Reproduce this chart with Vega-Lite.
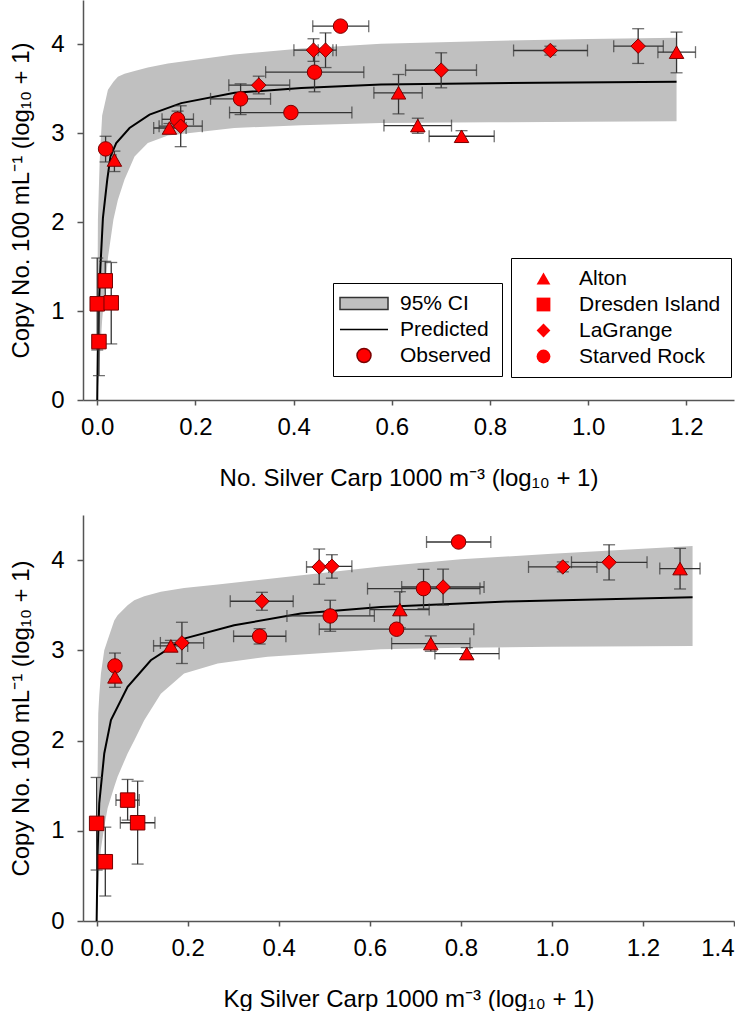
{
  "$schema": "https://vega.github.io/schema/vega-lite/v6.json",
  "padding": {"left": 9, "top": 0, "right": 0, "bottom": 0},
  "spacing": 115,
  "bounds": "flush",
  "config": {
    "font": "Liberation Sans",
    "view": {"stroke": null},
    "axis": {
      "grid": false,
      "labelFont": "Liberation Sans",
      "titleFont": "Liberation Sans",
      "labelFontSize": 24,
      "titleFontSize": 24,
      "titleFontWeight": "normal",
      "labelColor": "#000000",
      "titleColor": "#000000",
      "domainColor": "#555555",
      "domainWidth": 1.5,
      "tickColor": "#555555",
      "tickWidth": 1.5
    },
    "axisX": {"tickSize": 5, "labelPadding": 10, "titlePadding": 27},
    "axisY": {"tickSize": 6, "labelPadding": 13, "titlePadding": 17},
    "legend": {"labelFont": "Liberation Sans", "labelFontSize": 21, "labelColor": "#000000"}
  },
  "datasets": {
    "top_pts": [
      {"site": "Starved Rock", "x": 0.4955, "y": 4.206, "xlo": 0.439, "xhi": 0.553, "ylo": 4.19, "yhi": 4.22},
      {"site": "Starved Rock", "x": 0.4426, "y": 3.688, "xlo": 0.343, "xhi": 0.543, "ylo": 3.467, "yhi": 3.91},
      {"site": "Starved Rock", "x": 0.292, "y": 3.388, "xlo": 0.2308, "xhi": 0.353, "ylo": 3.211, "yhi": 3.557},
      {"site": "Starved Rock", "x": 0.3945, "y": 3.234, "xlo": 0.2695, "xhi": 0.5187, "ylo": 3.19, "yhi": 3.28},
      {"site": "Starved Rock", "x": 0.1636, "y": 3.158, "xlo": 0.132, "xhi": 0.196, "ylo": 3.07, "yhi": 3.25},
      {"site": "Starved Rock", "x": 0.017, "y": 2.825, "xlo": 0.014, "xhi": 0.02, "ylo": 2.678, "yhi": 2.967},
      {"site": "Dresden Island", "x": 0.0163, "y": 1.341, "xlo": 0.014, "xhi": 0.019, "ylo": 1.12, "yhi": 1.56},
      {"site": "Dresden Island", "x": 0.0, "y": 1.082, "xlo": -0.002, "xhi": 0.002, "ylo": 0.563, "yhi": 1.597},
      {"site": "Dresden Island", "x": 0.0035, "y": 0.657, "xlo": 0.001, "xhi": 0.006, "ylo": 0.274, "yhi": 1.04},
      {"site": "Dresden Island", "x": 0.0285, "y": 1.093, "xlo": 0.026, "xhi": 0.031, "ylo": 0.631, "yhi": 1.547},
      {"site": "LaGrange", "x": 0.4405, "y": 3.936, "xlo": 0.4006, "xhi": 0.48, "ylo": 3.81, "yhi": 4.064},
      {"site": "LaGrange", "x": 0.465, "y": 3.936, "xlo": 0.45, "xhi": 0.487, "ylo": 3.74, "yhi": 4.13},
      {"site": "LaGrange", "x": 0.329, "y": 3.542, "xlo": 0.268, "xhi": 0.392, "ylo": 3.444, "yhi": 3.643},
      {"site": "LaGrange", "x": 0.17, "y": 3.08, "xlo": 0.126, "xhi": 0.214, "ylo": 2.85, "yhi": 3.31},
      {"site": "LaGrange", "x": 0.7006, "y": 3.711, "xlo": 0.628, "xhi": 0.7725, "ylo": 3.512, "yhi": 3.906},
      {"site": "LaGrange", "x": 0.923, "y": 3.932, "xlo": 0.848, "xhi": 0.9986, "ylo": 3.88, "yhi": 3.98},
      {"site": "LaGrange", "x": 1.1018, "y": 3.981, "xlo": 1.052, "xhi": 1.153, "ylo": 3.786, "yhi": 4.177},
      {"site": "Alton", "x": 0.147, "y": 3.06, "xlo": 0.115, "xhi": 0.181, "ylo": 3.01, "yhi": 3.11},
      {"site": "Alton", "x": 0.035, "y": 2.7, "xlo": 0.032, "xhi": 0.038, "ylo": 2.57, "yhi": 2.8},
      {"site": "Alton", "x": 0.6137, "y": 3.456, "xlo": 0.5635, "xhi": 0.662, "ylo": 3.219, "yhi": 3.662},
      {"site": "Alton", "x": 0.653, "y": 3.087, "xlo": 0.584, "xhi": 0.7216, "ylo": 3.0, "yhi": 3.17},
      {"site": "Alton", "x": 0.742, "y": 2.967, "xlo": 0.676, "xhi": 0.8086, "ylo": 2.9, "yhi": 3.03},
      {"site": "Alton", "x": 1.18, "y": 3.913, "xlo": 1.142, "xhi": 1.2186, "ylo": 3.681, "yhi": 4.139}
    ],
    "top_band": [
      {"x": 0.0, "lo": 0.0, "hi": 0.3},
      {"x": 0.0005, "lo": 0.05, "hi": 1.2},
      {"x": 0.0014, "lo": 0.13, "hi": 2.03},
      {"x": 0.005, "lo": 0.45, "hi": 2.7},
      {"x": 0.01, "lo": 0.9, "hi": 3.2},
      {"x": 0.0218, "lo": 1.6, "hi": 3.49},
      {"x": 0.033, "lo": 2.03, "hi": 3.58},
      {"x": 0.042, "lo": 2.25, "hi": 3.636},
      {"x": 0.0556, "lo": 2.48, "hi": 3.67},
      {"x": 0.076, "lo": 2.74, "hi": 3.7},
      {"x": 0.103, "lo": 2.89, "hi": 3.74},
      {"x": 0.144, "lo": 2.975, "hi": 3.786},
      {"x": 0.279, "lo": 3.061, "hi": 3.887},
      {"x": 0.4155, "lo": 3.09, "hi": 3.955},
      {"x": 0.578, "lo": 3.115, "hi": 4.008},
      {"x": 0.8, "lo": 3.125, "hi": 4.04},
      {"x": 1.0, "lo": 3.13, "hi": 4.06},
      {"x": 1.18, "lo": 3.136, "hi": 4.075}
    ],
    "top_fit": [
      {"x": 0.0, "pred": 0.0},
      {"x": 0.001, "pred": 0.5},
      {"x": 0.003, "pred": 1.0},
      {"x": 0.0065, "pred": 1.5},
      {"x": 0.0116, "pred": 2.05},
      {"x": 0.0204, "pred": 2.48},
      {"x": 0.027, "pred": 2.74},
      {"x": 0.0387, "pred": 2.89},
      {"x": 0.0658, "pred": 3.06},
      {"x": 0.1065, "pred": 3.21},
      {"x": 0.171, "pred": 3.34},
      {"x": 0.28, "pred": 3.456},
      {"x": 0.4155, "pred": 3.51},
      {"x": 0.578, "pred": 3.549},
      {"x": 0.9, "pred": 3.57},
      {"x": 1.18, "pred": 3.58}
    ],
    "bot_pts": [
      {"site": "Starved Rock", "x": 0.795, "y": 4.201, "xlo": 0.7246, "xhi": 0.8658, "ylo": 4.18, "yhi": 4.22},
      {"site": "Starved Rock", "x": 0.718, "y": 3.684, "xlo": 0.595, "xhi": 0.842, "ylo": 3.463, "yhi": 3.898},
      {"site": "Starved Rock", "x": 0.513, "y": 3.381, "xlo": 0.418, "xhi": 0.61, "ylo": 3.211, "yhi": 3.555},
      {"site": "Starved Rock", "x": 0.6588, "y": 3.234, "xlo": 0.489, "xhi": 0.8285, "ylo": 3.19, "yhi": 3.28},
      {"site": "Starved Rock", "x": 0.358, "y": 3.156, "xlo": 0.3008, "xhi": 0.4157, "ylo": 3.07, "yhi": 3.24},
      {"site": "Starved Rock", "x": 0.0402, "y": 2.827, "xlo": 0.037, "xhi": 0.043, "ylo": 2.68, "yhi": 2.97},
      {"site": "Dresden Island", "x": 0.0, "y": 1.082, "xlo": -0.002, "xhi": 0.002, "ylo": 0.565, "yhi": 1.591},
      {"site": "Dresden Island", "x": 0.019, "y": 0.657, "xlo": 0.017, "xhi": 0.021, "ylo": 0.277, "yhi": 1.04},
      {"site": "Dresden Island", "x": 0.068, "y": 1.34, "xlo": 0.0424, "xhi": 0.0935, "ylo": 1.118, "yhi": 1.569},
      {"site": "Dresden Island", "x": 0.09, "y": 1.089, "xlo": 0.052, "xhi": 0.128, "ylo": 0.631, "yhi": 1.55},
      {"site": "LaGrange", "x": 0.4888, "y": 3.924, "xlo": 0.461, "xhi": 0.51, "ylo": 3.732, "yhi": 4.123},
      {"site": "LaGrange", "x": 0.5167, "y": 3.931, "xlo": 0.49, "xhi": 0.5606, "ylo": 3.8, "yhi": 4.06},
      {"site": "LaGrange", "x": 0.363, "y": 3.544, "xlo": 0.2934, "xhi": 0.4317, "ylo": 3.444, "yhi": 3.643},
      {"site": "LaGrange", "x": 0.1873, "y": 3.082, "xlo": 0.14, "xhi": 0.235, "ylo": 2.854, "yhi": 3.311},
      {"site": "LaGrange", "x": 0.761, "y": 3.702, "xlo": 0.67, "xhi": 0.851, "ylo": 3.5, "yhi": 3.9},
      {"site": "LaGrange", "x": 1.024, "y": 3.924, "xlo": 0.9486, "xhi": 1.099, "ylo": 3.87, "yhi": 3.98},
      {"site": "LaGrange", "x": 1.1256, "y": 3.976, "xlo": 1.043, "xhi": 1.209, "ylo": 3.78, "yhi": 4.17},
      {"site": "Alton", "x": 0.163, "y": 3.049, "xlo": 0.125, "xhi": 0.2, "ylo": 2.99, "yhi": 3.11},
      {"site": "Alton", "x": 0.0402, "y": 2.706, "xlo": 0.037, "xhi": 0.043, "ylo": 2.59, "yhi": 2.82},
      {"site": "Alton", "x": 0.666, "y": 3.452, "xlo": 0.6, "xhi": 0.7304, "ylo": 3.25, "yhi": 3.65},
      {"site": "Alton", "x": 0.734, "y": 3.075, "xlo": 0.648, "xhi": 0.82, "ylo": 2.99, "yhi": 3.16},
      {"site": "Alton", "x": 0.813, "y": 2.964, "xlo": 0.743, "xhi": 0.884, "ylo": 2.9, "yhi": 3.03},
      {"site": "Alton", "x": 1.2815, "y": 3.906, "xlo": 1.237, "xhi": 1.3254, "ylo": 3.68, "yhi": 4.13}
    ],
    "bot_band": [
      {"x": 0.0, "lo": 0.0, "hi": 0.3},
      {"x": 0.001, "lo": 0.1, "hi": 1.0},
      {"x": 0.002, "lo": 0.2, "hi": 1.6},
      {"x": 0.0035, "lo": 0.35, "hi": 2.3},
      {"x": 0.0057, "lo": 0.565, "hi": 2.5},
      {"x": 0.0094, "lo": 0.8, "hi": 2.743},
      {"x": 0.0167, "lo": 1.044, "hi": 3.0},
      {"x": 0.024, "lo": 1.25, "hi": 3.112},
      {"x": 0.0387, "lo": 1.487, "hi": 3.33},
      {"x": 0.046, "lo": 1.6, "hi": 3.389},
      {"x": 0.068, "lo": 1.857, "hi": 3.5},
      {"x": 0.0826, "lo": 2.0, "hi": 3.555},
      {"x": 0.1045, "lo": 2.226, "hi": 3.6},
      {"x": 0.141, "lo": 2.52, "hi": 3.65},
      {"x": 0.192, "lo": 2.743, "hi": 3.69},
      {"x": 0.266, "lo": 2.854, "hi": 3.73},
      {"x": 0.3755, "lo": 2.93, "hi": 3.79},
      {"x": 0.6243, "lo": 3.012, "hi": 3.93},
      {"x": 0.8, "lo": 3.03, "hi": 4.01},
      {"x": 1.0, "lo": 3.04, "hi": 4.07},
      {"x": 1.309, "lo": 3.049, "hi": 4.156}
    ],
    "bot_fit": [
      {"x": 0.0, "pred": 0.0},
      {"x": 0.002, "pred": 0.75},
      {"x": 0.0057, "pred": 1.303},
      {"x": 0.0167, "pred": 1.857},
      {"x": 0.0314, "pred": 2.226},
      {"x": 0.068, "pred": 2.595},
      {"x": 0.119, "pred": 2.89},
      {"x": 0.192, "pred": 3.13},
      {"x": 0.302, "pred": 3.278},
      {"x": 0.4486, "pred": 3.408},
      {"x": 0.6243, "pred": 3.48},
      {"x": 0.9, "pred": 3.54},
      {"x": 1.309, "pred": 3.588}
    ],
    "key_rows": [
      {"key": "95% CI"},
      {"key": "Predicted"},
      {"key": "Observed"}
    ]
  },
  "vconcat": [
    {
      "width": 651,
      "height": 400,
      "layer": [
        {
          "data": {"name": "top_band"},
          "mark": {"type": "area", "color": "#c0c0c0"},
          "encoding": {
            "x": {"field": "x", "type": "quantitative", "title": "No. Silver Carp 1000 m⁻³ (log₁₀ + 1)",
                  "scale": {"domain": [-0.029, 1.297], "nice": false, "zero": false},
                  "axis": {"values": [0, 0.2, 0.4, 0.6, 0.8, 1.0, 1.2], "format": ".1f"}},
            "y": {"field": "lo", "type": "quantitative", "title": "Copy No. 100 mL⁻¹ (log₁₀ + 1)",
                  "scale": {"domain": [0, 4.5], "nice": false, "zero": false},
                  "axis": {"values": [0, 1, 2, 3, 4], "format": "d"}},
            "y2": {"field": "hi"}
          }
        },
        {
          "data": {"name": "top_fit"},
          "mark": {"type": "line", "color": "#000000", "strokeWidth": 2},
          "encoding": {
            "x": {"field": "x", "type": "quantitative", "title": "No. Silver Carp 1000 m⁻³ (log₁₀ + 1)"},
            "y": {"field": "pred", "type": "quantitative", "title": "Copy No. 100 mL⁻¹ (log₁₀ + 1)"}
          }
        },
        {
          "data": {"name": "top_pts"},
          "mark": {"type": "errorbar", "ticks": {"size": 12}, "color": "#333333", "thickness": 1.3},
          "encoding": {
            "x": {"field": "xlo", "type": "quantitative", "title": "No. Silver Carp 1000 m⁻³ (log₁₀ + 1)"},
            "x2": {"field": "xhi"},
            "y": {"field": "y", "type": "quantitative", "title": "Copy No. 100 mL⁻¹ (log₁₀ + 1)"}
          }
        },
        {
          "data": {"name": "top_pts"},
          "mark": {"type": "errorbar", "ticks": {"size": 12}, "color": "#333333", "thickness": 1.3},
          "encoding": {
            "x": {"field": "x", "type": "quantitative", "title": "No. Silver Carp 1000 m⁻³ (log₁₀ + 1)"},
            "y": {"field": "ylo", "type": "quantitative", "title": "Copy No. 100 mL⁻¹ (log₁₀ + 1)"},
            "y2": {"field": "yhi"}
          }
        },
        {
          "data": {"name": "top_pts"},
          "mark": {"type": "point", "filled": true, "fill": "#ff0000", "stroke": "#7a0000", "strokeWidth": 1, "size": 210, "opacity": 1},
          "encoding": {
            "x": {"field": "x", "type": "quantitative", "title": "No. Silver Carp 1000 m⁻³ (log₁₀ + 1)"},
            "y": {"field": "y", "type": "quantitative", "title": "Copy No. 100 mL⁻¹ (log₁₀ + 1)"},
            "shape": {
              "field": "site", "type": "nominal",
              "scale": {"domain": ["Alton", "Dresden Island", "LaGrange", "Starved Rock"], "range": ["triangle-up", "square", "diamond", "circle"]},
              "legend": {"title": null, "orient": "none", "legendX": 428, "legendY": 258, "strokeColor": "#000000", "fillColor": "#ffffff", "padding": 10, "symbolOffset": 12, "labelOffset": 25, "rowPadding": 4, "symbolSize": 190, "symbolFillColor": "#ff0000", "symbolStrokeColor": "#7a0000", "symbolStrokeWidth": 1}
            }
          }
        },
        {
          "data": {"name": "key_rows"},
          "mark": {"type": "point", "filled": true, "opacity": 0},
          "encoding": {
            "shape": {
              "field": "key", "type": "nominal",
              "scale": {"domain": ["95% CI", "Predicted", "Observed"], "range": ["M-3.43,-0.86H3.43V0.86H-3.43Z", "M-3.43,0H3.43", "circle"]},
              "legend": {"title": null, "orient": "none", "legendX": 250, "legendY": 283, "strokeColor": "#000000", "fillColor": "#ffffff", "padding": 10, "symbolOffset": 10.5, "labelOffset": 25.5, "rowPadding": 4, "symbolSize": 196, "symbolStrokeWidth": 1.5, "symbolOpacity": 1}
            },
            "fill": {
              "field": "key", "type": "nominal",
              "scale": {"domain": ["95% CI", "Predicted", "Observed"], "range": ["#c0c0c0", "#000000", "#ff0000"]},
              "legend": {"title": null, "orient": "none", "legendX": 250, "legendY": 283, "strokeColor": "#000000", "fillColor": "#ffffff", "padding": 10, "symbolOffset": 10.5, "labelOffset": 25.5, "rowPadding": 4, "symbolSize": 196, "symbolStrokeWidth": 1.5, "symbolOpacity": 1}
            },
            "stroke": {
              "field": "key", "type": "nominal",
              "scale": {"domain": ["95% CI", "Predicted", "Observed"], "range": ["#333333", "#000000", "#7a0000"]},
              "legend": {"title": null, "orient": "none", "legendX": 250, "legendY": 283, "strokeColor": "#000000", "fillColor": "#ffffff", "padding": 10, "symbolOffset": 10.5, "labelOffset": 25.5, "rowPadding": 4, "symbolSize": 196, "symbolStrokeWidth": 1.5, "symbolOpacity": 1}
            }
          }
        }
      ],
      "resolve": {"scale": {"shape": "independent", "fill": "independent", "stroke": "independent"}, "legend": {"shape": "independent"}}
    },
    {
      "width": 651,
      "height": 406,
      "layer": [
        {
          "data": {"name": "bot_band"},
          "mark": {"type": "area", "color": "#c0c0c0"},
          "encoding": {
            "x": {"field": "x", "type": "quantitative", "title": "Kg Silver Carp 1000 m⁻³ (log₁₀ + 1)",
                  "scale": {"domain": [-0.03, 1.4], "nice": false, "zero": false},
                  "axis": {"values": [0, 0.2, 0.4, 0.6, 0.8, 1.0, 1.2, 1.4], "format": ".1f"}},
            "y": {"field": "lo", "type": "quantitative", "title": "Copy No. 100 mL⁻¹ (log₁₀ + 1)",
                  "scale": {"domain": [0, 4.5], "nice": false, "zero": false},
                  "axis": {"values": [0, 1, 2, 3, 4], "format": "d"}},
            "y2": {"field": "hi"}
          }
        },
        {
          "data": {"name": "bot_fit"},
          "mark": {"type": "line", "color": "#000000", "strokeWidth": 2},
          "encoding": {
            "x": {"field": "x", "type": "quantitative", "title": "Kg Silver Carp 1000 m⁻³ (log₁₀ + 1)"},
            "y": {"field": "pred", "type": "quantitative", "title": "Copy No. 100 mL⁻¹ (log₁₀ + 1)"}
          }
        },
        {
          "data": {"name": "bot_pts"},
          "mark": {"type": "errorbar", "ticks": {"size": 12}, "color": "#333333", "thickness": 1.3},
          "encoding": {
            "x": {"field": "xlo", "type": "quantitative", "title": "Kg Silver Carp 1000 m⁻³ (log₁₀ + 1)"},
            "x2": {"field": "xhi"},
            "y": {"field": "y", "type": "quantitative", "title": "Copy No. 100 mL⁻¹ (log₁₀ + 1)"}
          }
        },
        {
          "data": {"name": "bot_pts"},
          "mark": {"type": "errorbar", "ticks": {"size": 12}, "color": "#333333", "thickness": 1.3},
          "encoding": {
            "x": {"field": "x", "type": "quantitative", "title": "Kg Silver Carp 1000 m⁻³ (log₁₀ + 1)"},
            "y": {"field": "ylo", "type": "quantitative", "title": "Copy No. 100 mL⁻¹ (log₁₀ + 1)"},
            "y2": {"field": "yhi"}
          }
        },
        {
          "data": {"name": "bot_pts"},
          "mark": {"type": "point", "filled": true, "fill": "#ff0000", "stroke": "#7a0000", "strokeWidth": 1, "size": 210, "opacity": 1},
          "encoding": {
            "x": {"field": "x", "type": "quantitative", "title": "Kg Silver Carp 1000 m⁻³ (log₁₀ + 1)"},
            "y": {"field": "y", "type": "quantitative", "title": "Copy No. 100 mL⁻¹ (log₁₀ + 1)"},
            "shape": {
              "field": "site", "type": "nominal",
              "scale": {"domain": ["Alton", "Dresden Island", "LaGrange", "Starved Rock"], "range": ["triangle-up", "square", "diamond", "circle"]},
              "legend": null
            }
          }
        }
      ]
    }
  ]
}
